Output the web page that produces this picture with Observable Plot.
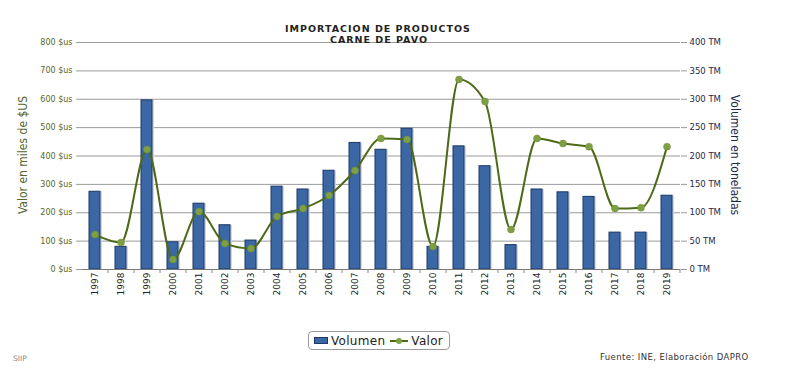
<!DOCTYPE html>
<html>
<head>
<meta charset="utf-8">
<script src="https://cdn.jsdelivr.net/npm/d3@7"></script>
<script src="https://cdn.jsdelivr.net/npm/@observablehq/plot@0.6"></script>
<style>
  html, body { margin: 0; padding: 0; background: #fff; }
  #wrap { position: relative; width: 785px; height: 373px; overflow: hidden; font-family: "DejaVu Sans", sans-serif; }
  #legend { position: absolute; left: 308px; top: 331px; width: 142px; height: 19px; border: 1px solid #9a9a9a; border-radius: 4px; box-sizing: border-box; font-size: 12px; color: #222; display: flex; align-items: center; padding-left: 5px; letter-spacing: 0.3px; }
  #legend .sw { display: inline-block; width: 14px; height: 7px; background: #3b67a5; border: 1px solid #1c3966; box-sizing: border-box; margin-right: 3px; }
  #legend svg { margin: 0 3px 0 5px; }
  #source { position: absolute; left: 600px; top: 352px; font-size: 8.5px; color: #333; letter-spacing: 0.4px; }
  #siip { position: absolute; left: 13px; top: 354px; font-size: 7.5px; color: #888; }
</style>
</head>
<body>
<div id="wrap">
  <div id="chart"></div>
  <div id="legend"><span class="sw"></span>Volumen<svg width="18" height="8"><line x1="0" y1="4" x2="18" y2="4" stroke="#4e6a19" stroke-width="2"/><circle cx="9" cy="4" r="3" fill="#7f9f43"/></svg>Valor</div>
  <div id="source">Fuente: INE, Elaboración DAPRO</div>
  <div id="siip">SIIP</div>
</div>
<script>
const years = ["1997","1998","1999","2000","2001","2002","2003","2004","2005","2006","2007","2008","2009","2010","2011","2012","2013","2014","2015","2016","2017","2018","2019"];
// Volumen (TM) - bars, right axis
const volumen = [137, 40, 298, 48, 116, 78, 51, 146, 141, 174, 223, 211, 248, 40, 217, 182, 43, 141, 136, 128, 65, 65, 130];
// Valor (miles de $US) - line, left axis
const valor = [123, 95, 423, 35, 204, 92, 74, 187, 215, 261, 349, 462, 458, 81, 670, 592, 141, 462, 444, 433, 215, 218, 433];
const leftTicks = [0, 100, 200, 300, 400, 500, 600, 700, 800];
const rightTicks = [0, 50, 100, 150, 200, 250, 300, 350, 400];

const data = years.map((y, i) => ({year: y, vol: volumen[i], val: valor[i]}));
// Both axes share one pixel mapping: 400 TM at the same height as 800 $us
const ratio = 800 / 400;

const condensed = "'DejaVu Sans Condensed', 'DejaVu Sans', sans-serif";

const chart = Plot.plot({
  width: 785,
  height: 373,
  marginTop: 42,
  marginBottom: 104,
  marginLeft: 82,
  marginRight: 105,
  style: {fontFamily: "DejaVu Sans, sans-serif", background: "#fff"},
  x: {type: "band", domain: years, paddingInner: 0.56, paddingOuter: 0.28},
  y: {domain: [0, 800]},
  marks: [
    Plot.gridY(leftTicks, {stroke: "#9a9a9a", strokeOpacity: 1, strokeWidth: 1}),
    Plot.axisY(leftTicks, {anchor: "left", tickFormat: d => d + " $us", tickSize: 6, tickPadding: 4, label: null, fill: "#55652a", stroke: "#9a9a9a", fontSize: 8, style: {letterSpacing: "0.6px"}}),
    Plot.axisY(rightTicks.map(d => d * ratio), {anchor: "right", tickFormat: d => (d / ratio) + " TM", tickSize: 6, tickPadding: 3, label: null, fill: "#1c2a4a", stroke: "#9a9a9a", fontSize: 8.5, style: {letterSpacing: "0.6px"}}),
    Plot.barY(data, {x: "year", y: d => d.vol * ratio, fill: "#cdd9e6", dx: 2}),
    Plot.barY(data, {x: "year", y: d => d.vol * ratio, fill: "#3b67a5", stroke: "#1c3966", strokeWidth: 1}),
    Plot.ruleY([0], {stroke: "#777"}),
    Plot.line(data, {x: "year", y: "val", curve: "monotone-x", stroke: "#4e6a19", strokeWidth: 2}),
    Plot.dot(data, {x: "year", y: "val", r: 3.5, fill: "#7f9f43", stroke: "#6f8f38", strokeWidth: 0.5}),
    Plot.axisX({tickRotate: -90, tickSize: 0, tickPadding: 3, label: null, fontSize: 9, fill: "#222", style: {fontFamily: condensed}}),
    Plot.axisX({tickSize: 4, tickFormat: () => "", label: null, dx: 13, stroke: "#888"})
  ]
});

const svg = d3.select(chart);
svg.append("text").attr("x", 378).attr("y", 32).attr("text-anchor", "middle")
  .attr("font-size", 9.5).attr("font-weight", "bold").attr("letter-spacing", "1px").attr("fill", "#222")
  .text("IMPORTACION DE PRODUCTOS");
svg.append("text").attr("x", 379).attr("y", 43).attr("text-anchor", "middle")
  .attr("font-size", 9.5).attr("font-weight", "bold").attr("letter-spacing", "1px").attr("fill", "#222")
  .text("CARNE DE PAVO");
svg.append("text").attr("transform", "translate(27,155) rotate(-90)").attr("text-anchor", "middle")
  .attr("font-size", 12).attr("fill", "#55652a").style("font-family", condensed)
  .text("Valor en miles de $US");
svg.append("text").attr("transform", "translate(731,155) rotate(90)").attr("text-anchor", "middle")
  .attr("font-size", 12).attr("fill", "#1c2a4a").style("font-family", condensed)
  .text("Volumen en toneladas");

document.getElementById("chart").appendChild(chart);
</script>
</body>
</html>
